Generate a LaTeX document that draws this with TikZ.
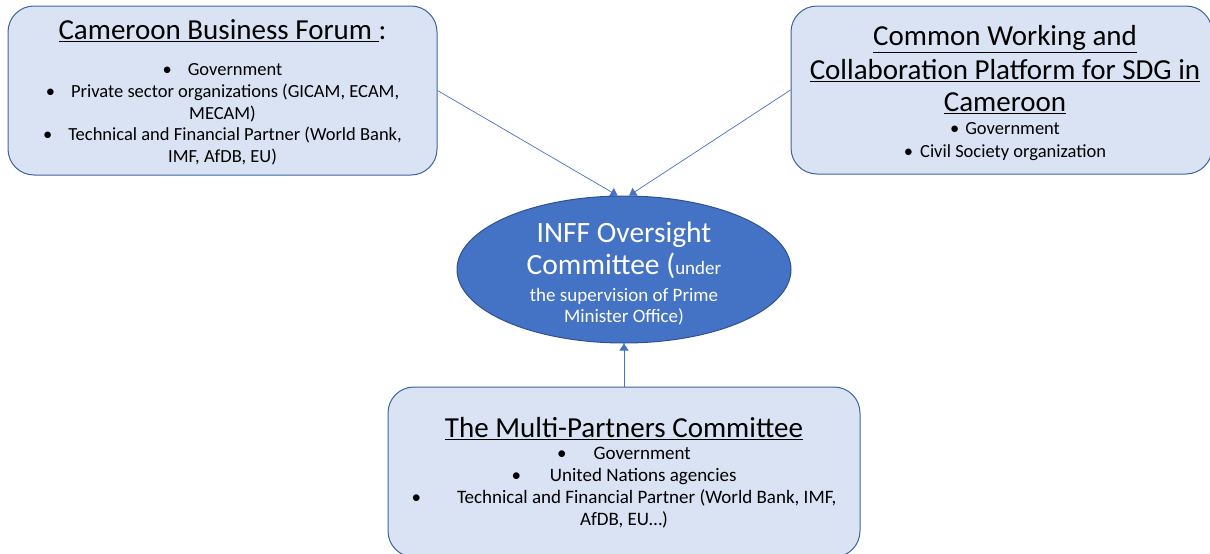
\documentclass[tikz,border=0pt]{standalone}
\usepackage{fontspec}
\setmainfont{Carlito}
\usetikzlibrary{shapes.geometric,arrows.meta}
\definecolor{boxfill}{HTML}{DAE3F3}
\definecolor{boxline}{HTML}{3D64A0}
\definecolor{ovfill}{HTML}{4472C4}
\definecolor{ovline}{HTML}{2F528F}
\definecolor{linkc}{HTML}{4472C4}
\newcommand\bul[1]{\textbullet\hspace{#1}}
\newcommand\bigf{\fontsize{29}{22}\selectfont}
\newcommand\smf{\fontsize{18.5}{22}\selectfont}
\newcommand\smg{\fontsize{19}{22}\selectfont}
\begin{document}
\begin{tikzpicture}[x=1pt,y=-1pt]
\useasboundingbox (0,0) rectangle (1210,554);
\tikzset{
 panel/.style={draw=boxline, fill=boxfill, rounded corners=26pt, line width=1pt, align=center, inner sep=0pt},
 oval/.style={ellipse, draw=ovline, fill=ovfill, line width=1pt, align=center, inner sep=0pt, text=white},
 link/.style={draw=linkc, line width=0.7pt, -{Triangle[length=7pt,width=9pt]}},
 label/.style={align=center, inner sep=0pt, anchor=north},
}
\node[panel, minimum width=429pt, minimum height=169pt] (cbf) at (222.5,90.5) {};
\node[label, font=\fontsize{18.5}{21.7}\selectfont] (cbft) at (222.5,19)
 {\bigf\underline{Cameroon Business Forum }:\\[15pt]
  \smf\bul{16pt}Government\\
  \smf\bul{16pt}Private sector organizations (GICAM, ECAM,\\
  \smf MECAM)\\
  \smf\bul{16pt}Technical and Financial Partner (World Bank,\\
  \smf IMF, AfDB, EU)};
\node[panel, minimum width=421pt, minimum height=168pt] (pf) at (1001.5,90) {};
\node[label, font=\fontsize{18.5}{23}\selectfont] (pft) at (1005,25)
 {\bigf\underline{Common Working and}\\[6pt]
  \bigf\underline{Collaboration Platform for SDG in}\\[9pt]
  \bigf\underline{Cameroon}\\[0pt]
  \smf\bul{6pt}Government\\
  \smf\bul{7pt}Civil Society organization};
\node[oval, minimum width=334pt, minimum height=147pt] (ov) at (624,269.5) {};
\node[label, text=white, font=\fontsize{19}{21}\selectfont] (ovt) at (624,222)
 {\fontsize{29.5}{21}\selectfont INFF Oversight\\[4pt]
  \fontsize{29.5}{21}\selectfont Committee (\fontsize{19}{21}\selectfont under\\[6pt]
  \fontsize{19}{21}\selectfont the supervision of Prime\\
  \fontsize{19}{21}\selectfont Minister Office)};
\node[panel, minimum width=472pt, minimum height=170pt] (mp) at (624,472) {};
\node[label, font=\fontsize{19}{22}\selectfont] (mpt) at (624,417)
 {\bigf\underline{The Multi-Partners Committee}\\[0pt]
  \smg\bul{27pt}Government\\
  \smg\bul{29pt}United Nations agencies\\
  \smg\bul{36pt}Technical and Financial Partner (World Bank, IMF,\\
  \smg AfDB, EU…)};
\draw[link] (cbf.east) -- (ov.95);
\draw[link] (pf.west) -- (ov.86);
\draw[link] (mp.north) -- (ov.south);
\end{tikzpicture}
\end{document}
